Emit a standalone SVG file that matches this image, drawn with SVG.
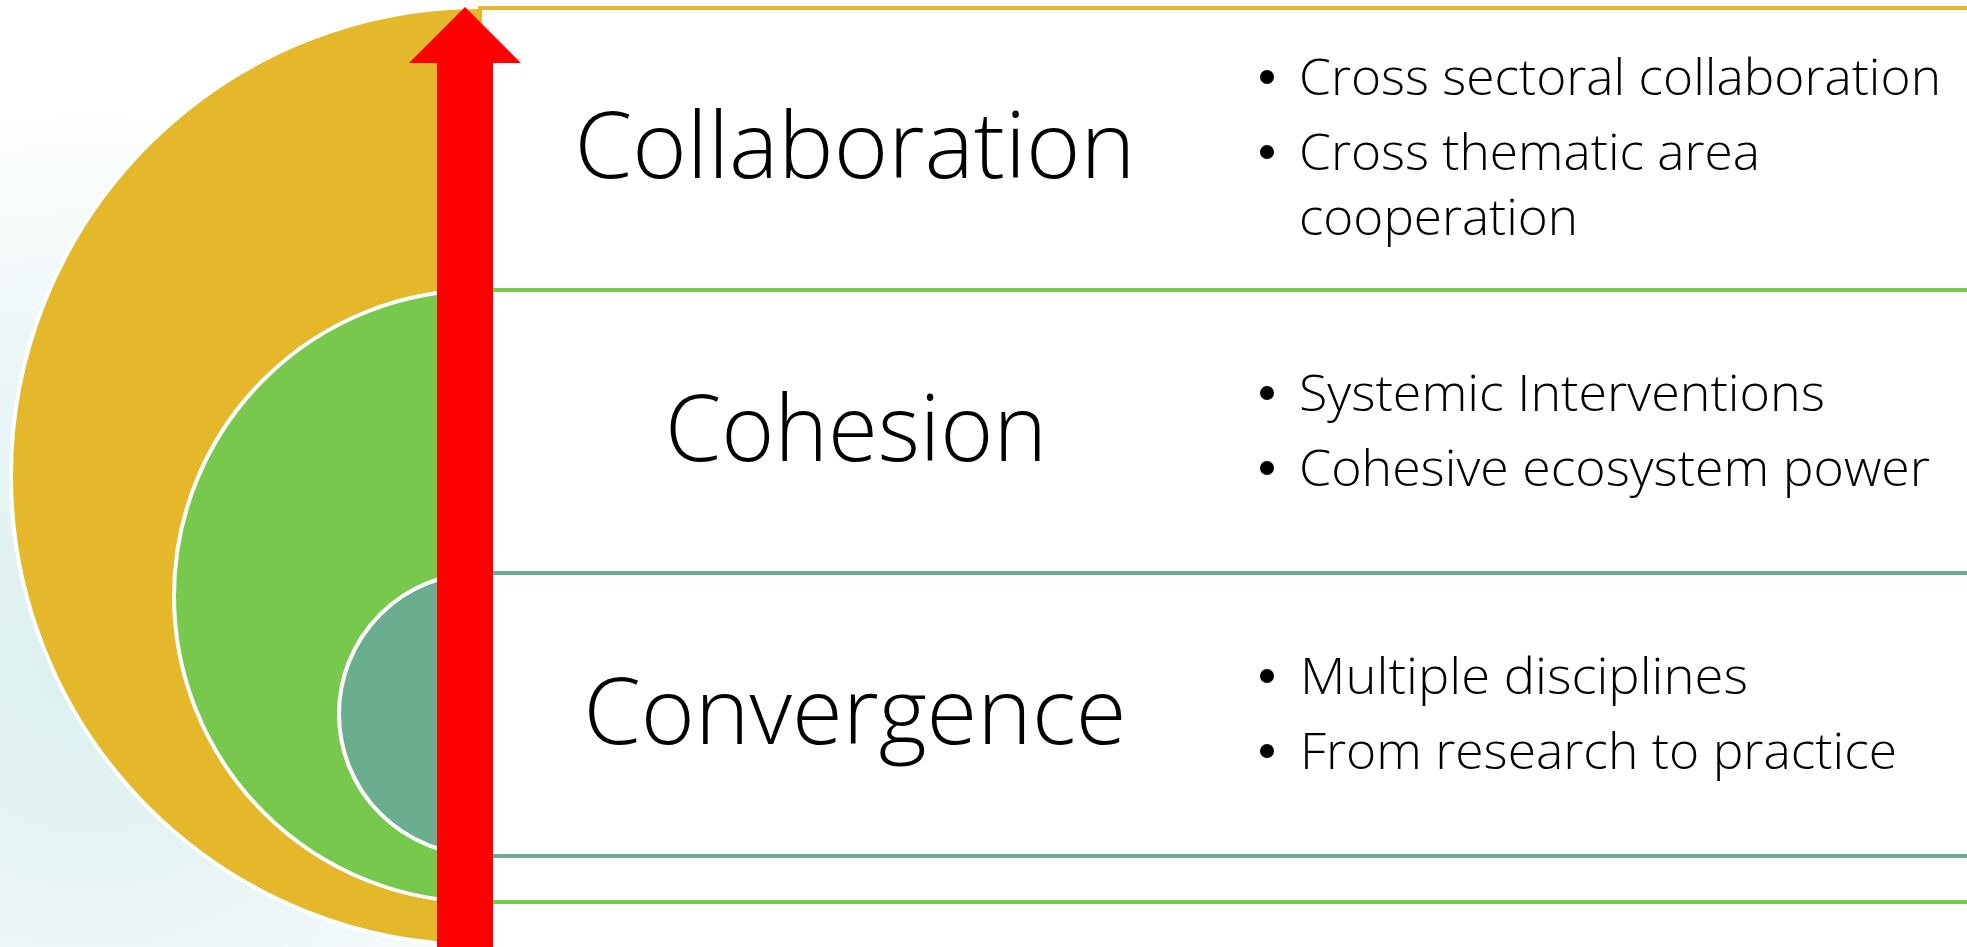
<svg xmlns="http://www.w3.org/2000/svg" width="1967" height="947" viewBox="0 0 1967 947">
  <defs>
    <radialGradient id="glow" cx="90" cy="660" r="560" gradientUnits="userSpaceOnUse">
      <stop offset="0" stop-color="#dcefef"/>
      <stop offset="0.5" stop-color="#eaf5f6"/>
      <stop offset="1" stop-color="#ffffff"/>
    </radialGradient>
    <style>
      .ring { stroke: #ffffff; stroke-width: 4; }
      .box { fill: #ffffff; stroke-width: 4; }
      .title { font-family: "Open Sans", "Liberation Sans", sans-serif; font-weight: 300; font-size: 92px; fill: #000000; text-anchor: middle; }
      .item { font-family: "Open Sans", "Liberation Sans", sans-serif; font-weight: 300; font-size: 50px; fill: #000000; }
      .dot { fill: #000000; }
    </style>
  </defs>

  <rect x="0" y="0" width="1967" height="947" fill="#ffffff"/>
  <rect x="0" y="100" width="700" height="847" fill="url(#glow)"/>

  <g id="collaboration">
    <circle class="ring" cx="480" cy="476" r="469" fill="#E5B72B"/>
    <rect class="box" x="480" y="8" width="1500" height="950" stroke="#E5B72B"/>
    <text class="title" x="855" y="178" textLength="561" lengthAdjust="spacingAndGlyphs">Collaboration</text>
    <circle class="dot" cx="1267" cy="77" r="7"/>
    <text class="item" x="1299" y="95" textLength="642" lengthAdjust="spacingAndGlyphs">Cross sectoral collaboration</text>
    <circle class="dot" cx="1267" cy="152" r="7"/>
    <text class="item" x="1299" y="170" textLength="461" lengthAdjust="spacingAndGlyphs">Cross thematic area</text>
    <text class="item" x="1299" y="235" textLength="279" lengthAdjust="spacingAndGlyphs">cooperation</text>
  </g>

  <g id="cohesion">
    <circle class="ring" cx="480" cy="596" r="306" fill="#78C84D"/>
    <rect class="box" x="480" y="290" width="1500" height="612" stroke="#78C84D"/>
    <text class="title" x="856" y="461" textLength="382" lengthAdjust="spacingAndGlyphs">Cohesion</text>
    <circle class="dot" cx="1267" cy="393" r="7"/>
    <text class="item" x="1299" y="411" textLength="526" lengthAdjust="spacingAndGlyphs">Systemic Interventions</text>
    <circle class="dot" cx="1267" cy="468" r="7"/>
    <text class="item" x="1299" y="486" textLength="631" lengthAdjust="spacingAndGlyphs">Cohesive ecosystem power</text>
  </g>

  <g id="convergence">
    <circle class="ring" cx="480" cy="714" r="141" fill="#6AAD8F"/>
    <rect class="box" x="480" y="573" width="1500" height="283" stroke="#6AAD8F"/>
    <text class="title" x="855" y="744" textLength="543" lengthAdjust="spacingAndGlyphs">Convergence</text>
    <circle class="dot" cx="1267" cy="676" r="7"/>
    <text class="item" x="1300" y="694" textLength="448" lengthAdjust="spacingAndGlyphs">Multiple disciplines</text>
    <circle class="dot" cx="1267" cy="751" r="7"/>
    <text class="item" x="1300" y="769" textLength="597" lengthAdjust="spacingAndGlyphs">From research to practice</text>
  </g>

  <g id="connectors">
    <polygon id="growth-arrow" points="465,7 521,63 493,63 493,947 437,947 437,63 409,63" fill="#FF0000"/>
  </g>
</svg>
